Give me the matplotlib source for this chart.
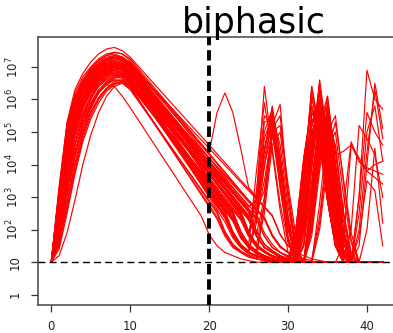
import matplotlib
matplotlib.use("Agg")
import matplotlib.pyplot as plt
import numpy as np

plt.rcParams['font.family'] = ['DejaVu Sans']
plt.rcParams['lines.scale_dashes'] = False

# ---------------- data (log10 of the plotted values, one value per day) ----------------
days = list(range(0, 43))

curve_01 = [1.0,3.3,5.3,6.3,6.8,7.15,7.4,7.55,7.6,7.5,
            7.3,7.03,6.76,6.49,6.22,5.95,5.68,5.41,5.14,4.87,
            4.6,4.33,4.06,3.79,3.52,3.25,2.98,2.71,2.44,1.85,
            1.5,1.3,1.2,1.1,1.05,1.0,1.0,1.0,1.0,3.0,
            6.9,6.0,5.7]
curve_02 = [1.0,3.2,5.2,6.1,6.6,6.9,7.1,7.25,7.3,7.25,
            7.1,6.82,6.54,6.26,5.98,5.7,5.42,5.14,4.86,4.58,
            4.3,4.02,3.74,3.46,3.18,2.9,2.62,2.34,1.8,1.48,
            1.29,1.17,2.0,4.5,6.5,4.6,2.6,1.3,1.0,1.0,
            1.0,1.0,1.0]
curve_03 = [1.0,3.1,5.0,5.9,6.4,6.7,6.9,7.05,7.1,7.05,
            6.9,6.6,6.3,6.0,5.7,5.4,5.1,4.8,4.5,4.2,
            3.9,3.6,3.3,3.0,2.7,2.4,2.8,4.5,5.6,3.8,
            2.2,2.0,4.2,5.8,4.8,2.9,1.5,1.0,1.0,1.0,
            1.0,1.0,1.0]
curve_04 = [1.0,3.0,4.9,5.8,6.3,6.55,6.75,6.85,6.9,6.8,
            6.6,6.27,5.94,5.61,5.28,4.95,4.62,4.29,3.96,3.63,
            3.3,2.97,2.64,2.31,1.8,1.45,1.3,1.15,1.1,1.05,
            1.0,1.2,3.5,6.4,5.0,3.2,1.8,1.0,1.0,1.0,
            1.0,1.0,1.0]
curve_05 = [1.0,2.9,4.8,5.8,6.3,6.6,6.8,6.95,7.0,6.9,
            6.7,6.39,6.08,5.77,5.46,5.15,4.84,4.53,4.22,3.91,
            3.6,3.29,2.98,2.67,2.36,1.8,3.0,5.3,5.4,3.5,
            1.8,1.0,1.0,1.0,1.0,1.0,1.0,1.0,1.0,1.0,
            1.0,1.0,1.0]
curve_06 = [1.0,3.0,5.0,6.0,6.6,6.95,7.2,7.35,7.4,7.3,
            7.1,6.84,6.58,6.32,6.06,5.8,5.54,5.28,5.02,4.76,
            4.5,4.24,3.98,3.72,3.46,3.2,2.94,2.68,2.42,1.85,
            1.5,1.3,3.0,5.2,6.0,4.2,2.1,1.0,1.0,1.5,
            4.0,6.5,5.1]
curve_07 = [1.0,2.5,4.2,5.4,6.1,6.55,6.85,7.05,7.15,7.1,
            6.95,6.66,6.37,6.08,5.79,5.5,5.21,4.92,4.63,4.34,
            4.05,3.76,3.47,3.18,2.89,2.6,2.31,1.8,1.45,1.3,
            1.15,1.1,2.5,5.0,5.6,3.8,2.2,1.1,1.0,1.0,
            1.0,1.0,1.0]
curve_08 = [1.0,2.4,4.1,5.3,5.95,6.4,6.7,6.9,7.0,6.95,
            6.8,6.48,6.16,5.84,5.52,5.2,4.88,4.56,4.24,3.92,
            3.6,3.28,2.96,2.64,2.32,1.8,1.45,1.3,1.15,1.1,
            1.05,1.0,1.8,3.9,5.9,5.0,3.0,1.4,1.0,1.0,
            1.0,1.0,1.0]
curve_09 = [1.0,2.3,3.9,5.1,5.8,6.2,6.5,6.7,6.8,6.75,
            6.55,6.2,5.85,5.5,5.15,4.8,4.45,4.1,3.75,3.4,
            3.05,2.7,2.35,1.8,1.45,1.3,2.5,4.8,5.5,4.0,
            2.0,1.5,3.2,4.9,5.4,5.0,3.4,1.9,1.0,1.0,
            1.0,1.0,1.0]
curve_10 = [1.0,2.6,4.4,5.6,6.3,6.75,7.05,7.25,7.35,7.3,
            7.15,6.87,6.59,6.31,6.03,5.75,5.47,5.19,4.91,4.63,
            4.35,5.6,6.2,5.6,4.5,3.3,3.0,6.4,4.5,2.8,
            1.6,1.0,1.0,1.0,1.0,1.0,1.0,1.0,1.0,1.0,
            1.0,1.0,1.0]
curve_11 = [1.0,2.2,3.8,5.0,5.75,6.25,6.55,6.75,6.85,6.8,
            6.6,6.26,5.92,5.58,5.24,4.9,4.56,4.22,3.88,3.54,
            3.2,2.86,2.52,1.9,1.55,1.3,1.2,1.1,1.05,1.0,
            1.0,1.0,1.0,2.5,4.8,5.3,3.2,1.6,1.0,1.0,
            1.0,1.0,1.0]
curve_12 = [1.0,2.4,4.0,5.25,6.0,6.45,6.75,6.95,7.05,7.0,
            6.85,6.55,6.25,5.95,5.65,5.35,5.05,4.75,4.45,4.15,
            3.85,3.55,3.25,2.95,2.65,2.35,1.8,1.45,1.3,1.15,
            1.1,1.05,1.0,3.2,5.5,4.4,2.4,2.6,4.7,4.1,
            3.9,3.8,3.7]
curve_13 = [1.0,1.8,3.1,4.3,5.2,5.8,6.2,6.45,6.6,6.55,
            6.35,5.99,5.63,5.27,4.91,4.55,4.19,3.83,3.47,3.11,
            2.75,2.39,1.85,1.5,1.3,1.2,1.1,2.8,4.9,4.2,
            2.4,1.2,1.0,1.0,1.0,1.0,1.0,1.0,1.0,1.0,
            1.0,1.0,1.0]
curve_14 = [1.0,1.6,2.8,4.0,5.0,5.7,6.2,6.5,6.7,6.8,
            6.65,6.32,5.99,5.66,5.33,5.0,4.67,4.34,4.01,3.68,
            3.35,3.02,2.69,2.36,1.8,1.45,1.3,1.15,1.1,1.05,
            1.0,1.0,1.0,2.2,4.2,5.7,3.8,1.8,1.0,1.0,
            1.0,1.0,1.0]
curve_15 = [1.0,1.2,1.9,2.9,4.0,4.9,5.6,6.1,6.4,6.5,
            6.35,6.0,5.65,5.3,4.95,4.6,4.25,3.9,3.55,3.2,
            2.85,2.5,1.9,1.55,1.3,1.2,1.1,1.05,1.0,1.0,
            1.0,1.0,1.5,4.0,6.6,4.8,2.8,1.4,1.0,1.0,
            1.0,1.0,1.0]
curve_16 = [1.0,1.9,3.3,4.6,5.5,6.1,6.5,6.8,6.95,7.0,
            6.8,6.51,6.22,5.93,5.64,5.35,5.06,4.77,4.48,4.19,
            3.9,3.61,3.32,3.03,2.74,2.45,1.85,3.0,5.2,5.85,
            3.0,1.3,2.2,4.8,6.2,4.3,2.3,1.2,1.0,1.0,
            1.0,1.0,1.0]
curve_17 = [1.0,2.0,3.5,4.6,5.4,5.9,6.25,6.45,6.4,6.1,
            5.75,5.38,5.01,4.64,4.27,3.9,3.53,3.16,2.79,2.42,
            1.85,1.5,1.3,1.2,1.1,1.05,1.0,1.0,1.0,1.0,
            1.0,1.0,1.0,2.0,4.5,5.2,3.4,1.8,1.0,1.0,
            1.0,1.0,1.0]
curve_18 = [1.0,3.1,5.1,6.0,6.5,6.8,7.0,7.1,7.15,7.1,
            6.95,6.64,6.33,6.02,5.71,5.4,5.09,4.78,4.47,4.16,
            3.85,3.54,3.23,2.92,2.61,2.3,1.8,1.45,1.3,1.15,
            1.1,1.8,3.9,6.0,5.3,3.3,1.7,1.0,1.0,1.0,
            1.0,1.0,1.0]
curve_19 = [1.0,2.7,4.5,5.6,6.25,6.6,6.85,7.0,7.05,7.0,
            6.8,6.46,6.12,5.78,5.44,5.1,4.76,4.42,4.08,3.74,
            3.4,3.06,2.72,2.38,1.85,1.5,3.8,5.9,4.4,2.6,
            1.3,1.0,2.6,4.9,5.7,3.9,2.0,1.0,1.0,1.0,
            1.0,1.0,1.0]
curve_20 = [1.0,2.3,3.95,5.2,5.9,6.35,6.6,6.75,6.8,6.75,
            6.55,6.24,5.93,5.62,5.31,5.0,4.69,4.38,4.07,3.76,
            3.45,3.14,2.83,2.52,1.9,1.55,1.3,1.2,1.1,1.05,
            1.0,1.0,1.6,3.5,5.6,5.2,3.3,1.6,1.0,1.0,
            1.0,1.0,1.0]
curve_21 = [1.0,3.2,5.1,6.05,6.55,6.85,7.05,7.2,7.25,7.2,
            7.0,6.65,6.3,5.95,5.6,5.25,4.9,4.55,4.2,3.85,
            3.5,3.15,2.8,2.45,1.85,1.5,1.3,1.2,1.1,1.05,
            1.0,1.4,2.9,4.6,5.8,5.3,3.6,2.0,1.1,1.0,
            1.0,1.0,1.0]
curve_22 = [1.0,1.7,3.0,4.2,5.1,5.75,6.2,6.5,6.65,6.7,
            6.5,6.2,5.9,5.6,5.3,5.0,4.7,4.4,4.1,3.8,
            3.5,3.2,2.9,2.6,2.3,1.8,2.6,4.2,5.3,3.6,
            2.0,1.1,1.0,1.0,1.0,1.0,1.0,1.0,2.0,5.2,
            4.8,4.3,3.0]
curve_23 = [1.0,2.5,4.3,5.5,6.2,6.65,6.95,7.15,7.25,7.2,
            7.05,6.75,6.45,6.15,5.85,5.55,5.25,4.95,4.65,4.35,
            4.05,3.75,3.45,3.15,2.85,2.55,1.95,1.55,1.35,1.2,
            1.1,1.05,1.0,2.4,4.6,6.1,4.0,2.0,1.0,1.0,
            1.0,1.0,1.0]
curve_24 = [1.0,2.1,3.7,4.9,5.7,6.2,6.5,6.7,6.8,6.75,
            6.6,6.31,6.02,5.73,5.44,5.15,4.86,4.57,4.28,3.99,
            3.7,3.41,3.12,2.83,2.54,1.9,1.55,1.3,1.2,1.1,
            1.05,1.0,1.0,2.5,4.8,5.3,3.2,1.6,1.0,2.5,
            5.0,5.8,4.1]
curve_25 = [1.0,2.9,4.9,5.9,6.45,6.8,7.05,7.2,7.3,7.25,
            7.05,6.72,6.39,6.06,5.73,5.4,5.07,4.74,4.41,4.08,
            3.75,3.42,3.09,2.76,2.43,1.85,3.2,5.5,5.2,3.3,
            1.7,1.0,1.0,3.2,5.5,4.4,2.4,1.2,1.0,1.0,
            1.0,1.0,1.0]
curve_26 = [1.0,1.5,2.6,3.8,4.8,5.5,6.0,6.3,6.5,6.55,
            6.4,6.1,5.8,5.5,5.2,4.9,4.6,4.3,4.0,3.7,
            3.4,3.1,2.8,2.5,1.9,1.55,1.3,1.2,1.1,1.05,
            1.0,2.0,4.2,5.8,4.8,2.9,1.5,1.0,1.0,1.0,
            1.0,1.0,1.0]
curve_27 = [1.0,2.4,4.1,5.3,6.0,6.45,6.75,6.95,7.05,7.0,
            6.85,6.48,6.11,5.74,5.37,5.0,4.63,4.26,3.89,3.52,
            3.15,2.78,2.41,1.85,1.5,1.3,1.2,1.1,1.05,1.0,
            1.0,1.0,1.0,1.0,1.0,1.0,1.0,1.0,1.0,1.0,
            1.0,1.0,1.0]
curve_28 = [1.0,3.0,4.95,5.9,6.4,6.7,6.9,7.0,7.05,7.0,
            6.8,6.52,6.24,5.96,5.68,5.4,5.12,4.84,4.56,4.28,
            4.0,3.72,3.44,3.16,2.88,2.6,2.32,3.5,5.0,5.2,
            3.4,1.8,3.5,6.4,5.0,3.2,1.8,1.0,1.0,1.0,
            1.0,1.0,1.0]
curve_29 = [1.0,2.6,4.4,5.55,6.2,6.6,6.85,7.0,7.1,7.05,
            6.9,6.58,6.26,5.94,5.62,5.3,4.98,4.66,4.34,4.02,
            3.7,3.38,3.06,2.74,2.42,1.85,1.5,1.3,1.2,1.1,
            1.05,1.0,2.5,4.5,5.2,4.8,4.3,4.4,4.6,4.2,
            3.8,3.6,3.4]
curve_30 = [1.0,1.8,3.2,4.4,5.3,5.9,6.3,6.55,6.7,6.7,
            6.55,6.22,5.89,5.56,5.23,4.9,4.57,4.24,3.91,3.58,
            3.25,2.92,2.59,2.26,1.75,1.45,1.3,1.15,1.1,1.05,
            1.0,1.0,3.0,5.2,6.0,4.2,2.1,1.0,1.0,1.0,
            1.0,1.0,1.0]
curve_31 = [1.0,2.2,3.8,5.0,5.8,6.3,6.6,6.8,6.9,6.85,
            6.7,6.41,6.12,5.83,5.54,5.25,4.96,4.67,4.38,4.09,
            3.8,3.51,3.22,2.93,2.64,2.35,1.8,1.45,1.3,1.15,
            1.1,1.05,2.0,4.5,6.5,4.6,2.6,1.3,1.0,1.0,
            2.0,4.5,2.2]
curve_32 = [1.0,3.3,5.25,6.2,6.7,7.0,7.25,7.4,7.45,7.4,
            7.2,6.9,6.6,6.3,6.0,5.7,5.4,5.1,4.8,4.5,
            4.2,3.9,3.6,3.3,3.0,2.7,2.9,5.0,5.7,4.2,
            2.2,1.1,1.0,1.0,1.0,1.0,1.0,1.0,1.0,1.0,
            1.0,1.0,1.0]
curve_33 = [1.0,2.5,4.2,5.35,6.05,6.5,6.8,6.95,7.0,6.95,
            6.75,6.39,6.03,5.67,5.31,4.95,4.59,4.23,3.87,3.51,
            3.15,2.79,2.43,1.85,1.5,1.3,1.2,1.1,1.05,1.0,
            1.0,1.0,1.8,3.9,5.9,5.0,3.0,1.4,1.0,1.0,
            1.0,1.0,1.0]
curve_34 = [1.0,1.6,2.8,4.0,4.95,5.6,6.05,6.35,6.5,6.5,
            6.3,5.96,5.62,5.28,4.94,4.6,4.26,3.92,3.58,3.24,
            2.9,2.56,1.95,1.55,1.35,1.2,1.1,1.05,1.0,1.0,
            1.0,1.0,1.0,1.0,2.0,4.0,4.6,2.5,1.2,1.0,
            1.0,1.0,1.0]
curve_35 = [1.0,2.8,4.7,5.7,6.25,6.6,6.8,6.95,7.0,6.95,
            6.75,6.45,6.15,5.85,5.55,5.25,4.95,4.65,4.35,4.05,
            3.75,3.45,3.15,2.85,2.55,1.95,1.55,1.35,1.2,1.1,
            1.05,1.0,2.5,5.0,5.6,3.8,2.2,1.1,1.0,1.8,
            3.5,3.2,1.5]
curve_36 = [1.0,2.3,4.0,5.2,5.95,6.4,6.7,6.9,7.0,6.95,
            6.8,6.53,6.26,5.99,5.72,5.45,5.18,4.91,4.64,4.37,
            4.1,3.83,3.56,3.29,3.02,2.75,2.48,1.9,1.55,1.3,
            1.2,1.1,1.05,1.0,2.8,5.0,5.5,3.5,1.7,1.0,
            1.0,1.0,1.0]
curve_37 = [1.0,3.0,5.0,6.0,6.55,6.9,7.15,7.3,7.35,7.3,
            7.1,6.78,6.46,6.14,5.82,5.5,5.18,4.86,4.54,4.22,
            3.9,3.58,3.26,2.94,2.62,2.3,1.8,1.45,1.3,1.15,
            1.1,1.3,3.8,6.2,4.6,2.9,1.6,1.0,1.0,1.0,
            1.0,1.0,1.0]
curve_38 = [1.0,2.6,4.3,5.45,6.1,6.5,6.75,6.9,6.95,6.9,
            6.7,6.4,6.1,5.8,5.5,5.2,4.9,4.6,4.3,4.0,
            3.7,3.4,3.1,2.8,2.5,1.9,1.55,2.8,4.9,4.2,
            2.4,1.2,1.0,2.2,4.2,5.7,3.8,1.8,1.0,1.0,
            1.0,1.0,1.0]
curve_39 = [1.0,1.9,3.4,4.6,5.45,6.0,6.4,6.65,6.75,6.75,
            6.6,6.25,5.9,5.55,5.2,4.85,4.5,4.15,3.8,3.45,
            3.1,2.75,2.4,1.85,1.5,1.3,1.2,1.1,1.05,1.0,
            1.0,1.0,1.0,2.8,5.0,4.8,2.7,1.3,1.0,1.0,
            1.0,1.0,1.0]
curve_40 = [1.0,2.45,4.15,5.3,6.0,6.45,6.75,6.95,7.1,7.05,
            6.9,6.61,6.32,6.03,5.74,5.45,5.16,4.87,4.58,4.29,
            4.0,3.71,3.42,3.13,2.84,2.55,1.95,1.55,1.35,1.2,
            1.1,2.0,4.2,5.8,4.8,2.9,1.5,1.0,1.0,2.0,
            4.4,6.3,4.8]
curve_41 = [1.0,2.8,4.6,5.7,6.3,6.7,6.95,7.1,7.2,7.15,
            7.0,6.69,6.38,6.07,5.76,5.45,5.14,4.83,4.52,4.21,
            3.9,3.59,3.28,2.97,2.66,2.35,1.8,1.45,1.3,1.15,
            1.1,1.05,2.3,4.7,5.9,4.5,2.5,1.2,1.0,1.0,
            1.0,1.0,1.0]
curve_42 = [1.0,2.0,3.6,4.8,5.6,6.1,6.45,6.65,6.75,6.7,
            6.5,6.17,5.84,5.51,5.18,4.85,4.52,4.19,3.86,3.53,
            3.2,2.87,2.54,1.9,1.55,1.3,2.4,4.4,5.45,3.9,
            2.1,1.1,1.0,2.0,4.4,5.6,4.0,2.0,1.0,1.0,
            1.0,1.0,1.0]
curve_43 = [1.0,3.1,5.05,6.0,6.5,6.85,7.1,7.25,7.3,7.2,
            7.0,6.71,6.42,6.13,5.84,5.55,5.26,4.97,4.68,4.39,
            4.1,3.81,3.52,3.23,2.94,2.65,2.36,1.8,1.45,1.3,
            1.15,1.1,3.3,5.6,5.3,3.4,1.8,1.0,1.0,1.0,
            1.0,1.0,1.0]
curve_44 = [1.0,2.3,4.0,5.15,5.9,6.35,6.65,6.85,6.95,6.9,
            6.75,6.47,6.19,5.91,5.63,5.35,5.07,4.79,4.51,4.23,
            3.95,3.67,3.39,3.11,2.83,2.55,1.95,1.55,1.35,1.2,
            1.1,1.05,1.0,1.8,3.8,5.4,4.6,2.6,1.3,1.0,
            1.0,1.0,1.0]
curve_45 = [1.0,1.7,3.1,4.35,5.25,5.85,6.25,6.5,6.6,6.6,
            6.4,6.03,5.66,5.29,4.92,4.55,4.18,3.81,3.44,3.07,
            2.7,2.33,1.8,1.45,1.3,1.15,1.1,1.05,1.0,1.0,
            1.0,1.0,2.8,5.4,5.0,3.0,1.5,1.0,1.0,1.0,
            1.0,1.0,1.0]
curve_46 = [1.0,2.7,4.55,5.65,6.3,6.7,7.0,7.2,7.3,7.25,
            7.1,6.8,6.5,6.2,5.9,5.6,5.3,5.0,4.7,4.4,
            4.1,3.8,3.5,3.2,2.9,2.6,2.3,3.9,5.5,4.6,
            2.7,1.4,1.0,2.6,5.2,6.1,4.1,2.0,1.0,1.0,
            1.0,1.0,1.0]
curve_47 = [1.0,2.2,3.85,5.05,5.8,6.3,6.6,6.8,6.9,6.85,
            6.65,6.3,5.95,5.6,5.25,4.9,4.55,4.2,3.85,3.5,
            3.15,2.8,2.45,1.85,1.5,1.3,1.2,1.1,1.05,1.0,
            1.0,1.6,3.6,5.5,5.7,3.7,1.9,1.0,1.0,1.0,
            1.0,1.0,1.0]
curve_48 = [1.0,3.0,4.9,5.85,6.4,6.75,7.0,7.15,7.2,7.15,
            6.95,6.61,6.27,5.93,5.59,5.25,4.91,4.57,4.23,3.89,
            3.55,3.21,2.87,2.53,1.9,1.55,1.3,1.2,1.1,1.05,
            1.0,1.0,1.0,2.4,4.9,5.5,3.6,1.8,1.0,1.0,
            1.0,1.0,1.0]
curve_49 = [1.0,2.5,4.25,5.4,6.1,6.55,6.85,7.05,7.15,7.1,
            6.9,6.63,6.36,6.09,5.82,5.55,5.28,5.01,4.74,4.47,
            4.2,3.93,3.66,3.39,3.12,2.85,2.58,3.2,5.1,5.5,
            3.2,1.5,1.0,1.0,1.0,1.0,1.0,1.5,4.6,4.1,
            3.8,4.0,4.1]
curve_50 = [1.0,1.4,2.5,3.7,4.7,5.4,5.9,6.25,6.45,6.55,
            6.45,6.13,5.81,5.49,5.17,4.85,4.53,4.21,3.89,3.57,
            3.25,2.93,2.61,2.29,1.75,1.45,1.25,1.15,1.1,1.05,
            1.0,1.0,2.1,4.3,6.0,4.9,2.8,1.4,1.0,1.0,
            1.0,1.0,1.0]
curve_51 = [1.0,2.9,4.75,5.8,6.35,6.7,6.95,7.1,7.15,7.1,
            6.9,6.54,6.18,5.82,5.46,5.1,4.74,4.38,4.02,3.66,
            3.3,2.94,2.58,1.95,1.55,1.35,2.2,4.0,5.0,3.3,
            1.7,1.0,1.0,3.0,5.6,5.0,2.9,1.4,1.0,1.0,
            1.0,1.0,1.0]
curve_52 = [1.0,2.4,4.05,5.25,5.95,6.4,6.7,6.9,7.0,6.95,
            6.8,6.49,6.18,5.87,5.56,5.25,4.94,4.63,4.32,4.01,
            3.7,3.39,3.08,2.77,2.46,1.9,1.5,1.3,1.2,1.1,
            1.05,1.0,1.5,3.4,5.3,5.5,3.9,2.0,1.0,1.0,
            1.0,1.0,1.0]
curve_53 = [1.0,3.2,5.15,6.1,6.6,6.95,7.2,7.35,7.45,7.4,
            7.25,6.96,6.67,6.38,6.09,5.8,5.51,5.22,4.93,4.64,
            4.35,4.06,3.77,3.48,3.19,2.9,2.61,2.32,1.8,1.45,
            1.3,1.15,2.7,5.3,5.9,4.0,2.0,1.0,1.0,3.0,
            5.6,5.0,4.6]
curve_54 = [1.0,1.9,3.45,4.65,5.5,6.05,6.4,6.6,6.7,6.65,
            6.45,6.15,5.85,5.55,5.25,4.95,4.65,4.35,4.05,3.75,
            3.45,3.15,2.85,2.55,1.95,1.55,1.35,2.5,4.6,5.0,
            3.0,1.4,1.0,2.0,4.0,5.9,4.4,2.3,1.1,1.0,
            1.0,1.0,1.0]
curve_55 = [1.0,2.65,4.45,5.55,6.2,6.6,6.85,7.0,7.05,7.0,
            6.8,6.42,6.04,5.66,5.28,4.9,4.52,4.14,3.76,3.38,
            3.0,2.62,2.24,1.75,1.45,1.25,1.15,1.1,1.05,1.0,
            1.0,1.0,2.2,4.6,5.4,3.5,1.8,1.0,1.0,1.0,
            1.0,1.0,1.0]
curve_56 = [1.0,2.1,3.75,4.95,5.75,6.25,6.6,6.8,6.95,6.95,
            6.8,6.54,6.28,6.02,5.76,5.5,5.24,4.98,4.72,4.46,
            4.2,3.94,3.68,3.42,3.16,2.9,2.64,2.38,1.85,1.5,
            1.3,1.2,1.1,1.05,2.4,4.5,5.0,3.1,1.6,1.0,
            1.0,1.0,1.0]
curve_57 = [1.0,3.0,4.95,5.95,6.5,6.85,7.1,7.25,7.3,7.25,
            7.05,6.74,6.43,6.12,5.81,5.5,5.19,4.88,4.57,4.26,
            3.95,3.64,3.33,3.02,2.71,2.4,2.6,4.4,5.8,4.3,
            2.3,1.2,2.0,4.1,6.3,4.7,2.5,1.2,1.0,1.0,
            1.0,1.0,1.0]
curve_58 = [1.0,2.35,4.0,5.2,5.9,6.35,6.65,6.8,6.85,6.8,
            6.6,6.28,5.96,5.64,5.32,5.0,4.68,4.36,4.04,3.72,
            3.4,3.08,2.76,2.44,1.85,1.5,1.3,1.2,1.1,1.05,
            1.0,1.0,1.0,2.8,5.3,5.8,3.8,1.9,1.0,1.0,
            1.0,1.0,1.0]
curve_59 = [1.0,2.75,4.6,5.7,6.3,6.65,6.9,7.05,7.1,7.05,
            6.85,6.52,6.19,5.86,5.53,5.2,4.87,4.54,4.21,3.88,
            3.55,3.22,2.89,2.56,1.95,1.55,1.35,1.2,1.1,1.05,
            1.0,1.8,3.8,5.3,4.6,2.9,1.5,1.0,1.0,1.0,
            1.0,1.0,1.0]
curve_60 = [1.0,1.55,2.75,3.95,4.9,5.6,6.05,6.35,6.55,6.6,
            6.5,6.22,5.94,5.66,5.38,5.1,4.82,4.54,4.26,3.98,
            3.7,3.42,3.14,2.86,2.58,1.95,1.55,1.35,1.2,1.1,
            1.05,1.0,1.0,1.0,2.2,4.4,5.3,3.6,1.9,1.0,
            1.0,1.0,1.0]

curves = [curve_01, curve_02, curve_03, curve_04, curve_05, curve_06, curve_07, curve_08,
          curve_09, curve_10, curve_11, curve_12, curve_13, curve_14, curve_15, curve_16,
          curve_17, curve_18, curve_19, curve_20, curve_21, curve_22, curve_23, curve_24,
          curve_25, curve_26, curve_27, curve_28, curve_29, curve_30, curve_31, curve_32,
          curve_33, curve_34, curve_35, curve_36, curve_37, curve_38, curve_39, curve_40,
          curve_41, curve_42, curve_43, curve_44, curve_45, curve_46, curve_47, curve_48,
          curve_49, curve_50, curve_51, curve_52, curve_53, curve_54, curve_55, curve_56,
          curve_57, curve_58, curve_59, curve_60]

x_ticks = [0, 10, 20, 30, 40]
y_tick_values = [1, 10, 1e2, 1e3, 1e4, 1e5, 1e6, 1e7]
y_tick_labels = ['1', '10', r'$10^{2}$', r'$10^{3}$', r'$10^{4}$', r'$10^{5}$', r'$10^{6}$', r'$10^{7}$']
detection_limit = 10
cutoff_day = 20
title_text = 'biphasic'

# ---------------- figure ----------------
W, H = 393, 333
fig = plt.figure(figsize=(W / 100, H / 100), dpi=100)
ax = fig.add_axes([38 / W, 28 / H, 358 / W, 268 / H])

for c in curves:
    ax.plot(days, 10 ** np.asarray(c), color='#ff0000', lw=0.85, zorder=2)

ax.axhline(detection_limit, color='black', lw=1.0, dashes=(5, 3), zorder=3)
ax.axvline(cutoff_day, color='black', lw=2.8, dashes=(7.5, 3.5), zorder=4)

ax.set_yscale('log')
ax.set_xlim(-1.68, 43.68)
ax.set_ylim(10 ** -0.317, 10 ** 7.92)

ax.set_xticks(x_ticks)
ax.set_xticklabels([str(v) for v in x_ticks])
ax.set_yticks(y_tick_values)
ax.set_yticklabels(y_tick_labels)
ax.yaxis.set_minor_locator(matplotlib.ticker.NullLocator())

ax.tick_params(axis='both', direction='out', length=5, width=0.9, color='#333333',
               labelsize=8.5, labelcolor='#222222')
ax.tick_params(axis='x', pad=6)
ax.tick_params(axis='y', pad=7)
for lab in ax.get_yticklabels():
    lab.set_rotation(90)
    lab.set_va('center')
    lab.set_ha('right')

for side in ['left', 'bottom', 'top', 'right']:
    ax.spines[side].set_color('#444444')
    ax.spines[side].set_linewidth(1.1)

fig.text(254 / W, 1 - 33.5 / H, title_text, ha='center', va='baseline',
         fontsize=25, color='black')

fig.savefig('out.png', dpi=100)
